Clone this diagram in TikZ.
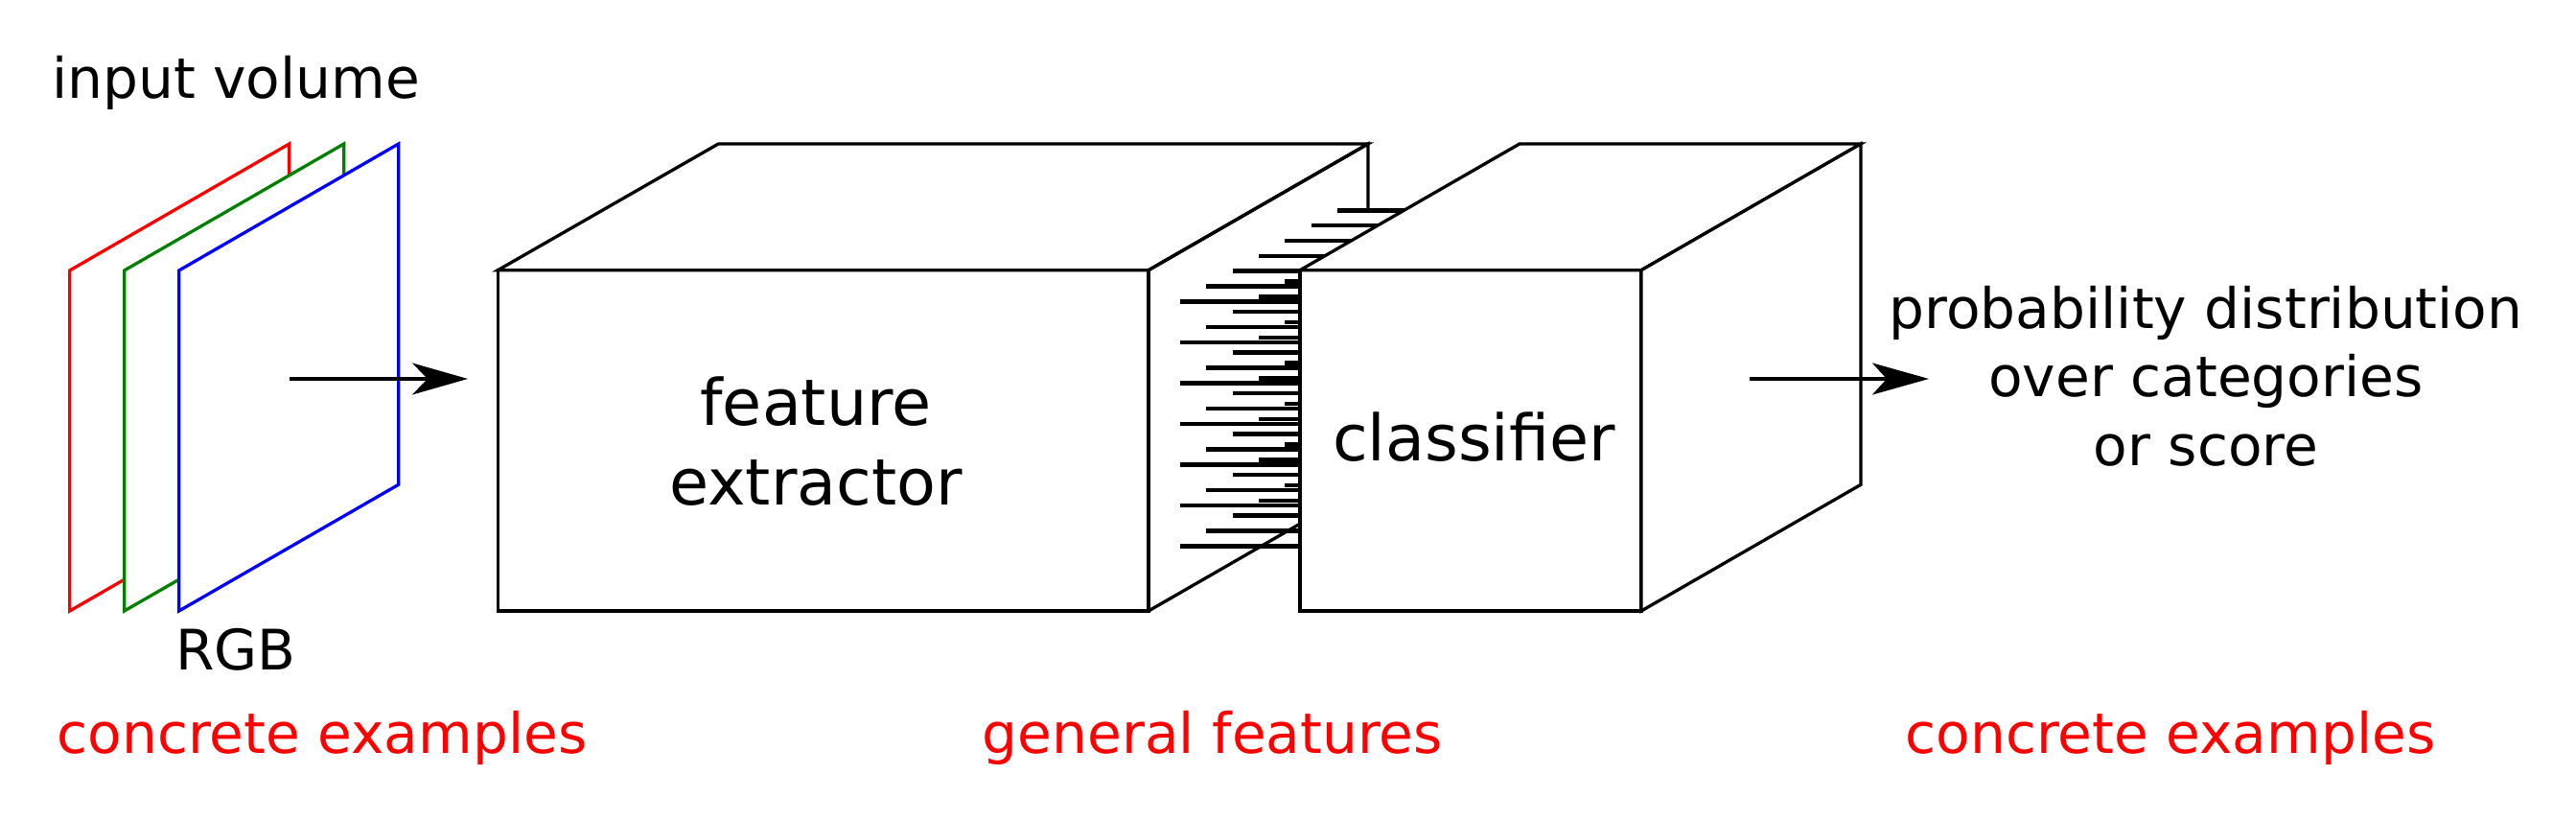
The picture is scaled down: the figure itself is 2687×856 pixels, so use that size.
\documentclass[tikz,border=0pt]{standalone}
\usepackage{fontspec}
\setmainfont{DejaVu Sans}
\usetikzlibrary{arrows.meta}
\definecolor{pgreen}{RGB}{0,128,0}
\begin{document}
\begin{tikzpicture}[x=1pt,y=-1pt,
  edge/.style={line width=3.3pt, line join=miter},
  face/.style={edge, fill=white},
  hatchline/.style={line width=4.5pt},
  lbl/.style={font=\fontsize{58.2}{70}\selectfont, inner sep=0pt, anchor=base},
  boxlbl/.style={font=\fontsize{66.8}{80}\selectfont, inner sep=0pt, anchor=base},
  flow/.style={line width=3.3pt, -{Stealth[length=58pt,width=33pt,inset=16pt]}}]
\useasboundingbox (0,0) rectangle (2687,856);

% RGB planes
\foreach \dx/\col in {0/red, 57/pgreen, 114/blue} {
  \draw[face, draw=\col] (72.7+\dx,282) -- (301.7+\dx,150) -- (301.7+\dx,505.3) -- (72.7+\dx,637) -- cycle;
}
\node[lbl] (inputlbl) at (246,102.7) {input volume};
\node[lbl] (rgblbl) at (246,698) {RGB};

% arrow into feature extractor
\coordinate (inS) at (302,395);
\coordinate (inE) at (488,395);
\draw[flow] (inS) -- (inE);

% feature extractor box
\draw[face] (519.3,281.7) rectangle (1198,637);
\draw[face] (519.3,281.7) -- (749.3,150) -- (1427,150) -- (1198,281.7) -- cycle;
\draw[edge] (1198,281.7) -- (1427,150) -- (1427,219.3);
\foreach \k in {0,...,6} {
  \foreach \i in {0,...,6} {
    \draw[hatchline] ({1395-27.33*\i},{219.3+15.83*\i+42.5*\k}) -- (1500,{219.3+15.83*\i+42.5*\k});
  }
}
\draw[edge] (1198,637) -- (1427,505.3);
\node[boxlbl] (fe1) at (851,443) {feature};
\node[boxlbl] (fe2) at (851,526.7) {extractor};

% classifier box
\draw[face] (1356,281.7) rectangle (1712,637);
\draw[face] (1356,281.7) -- (1585,150) -- (1941,150) -- (1712,281.7) -- cycle;
\draw[face] (1712,281.7) -- (1941,150) -- (1941,505.3) -- (1712,637) -- cycle;
\node[boxlbl] (cls) at (1537.5,480) {classifier};

% output arrow
\coordinate (outS) at (1825,395);
\coordinate (outE) at (2012,395);
\draw[line width=3.3pt, -{Stealth[length=59pt,width=33pt,inset=15pt]}] (outS) -- (outE);

\node[lbl] (p1) at (2301,342.7) {probability distribution};
\node[lbl] (p2) at (2301,413) {over categories};
\node[lbl] (p3) at (2301,485) {or score};

% bottom captions
\node[lbl, text=red] (c1) at (336,785.5) {concrete examples};
\node[lbl, text=red] (c2) at (1265,785) {general features};
\node[lbl, text=red] (c3) at (2264,785) {concrete examples};
\end{tikzpicture}
\end{document}
